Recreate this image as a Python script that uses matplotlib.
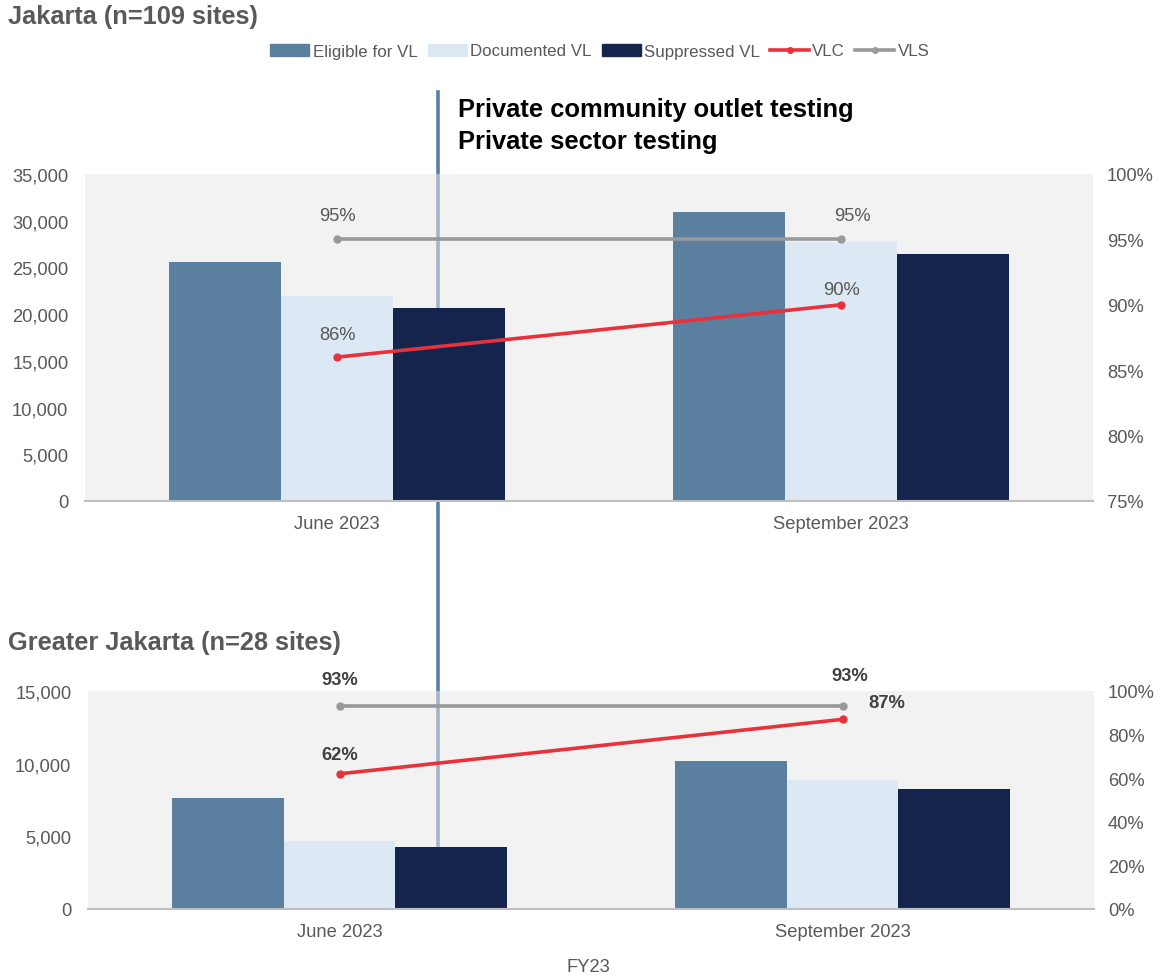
import matplotlib.pyplot as plt
from matplotlib.lines import Line2D
from matplotlib.patches import Patch
from matplotlib.transforms import blended_transform_factory
from matplotlib.ticker import FuncFormatter, PercentFormatter

plt.rcParams['font.family'] = ['Liberation Sans', 'DejaVu Sans']

months = ['June 2023', 'September 2023']

# Jakarta (n=109 sites)
jkt_eligible = [25600, 30900]
jkt_documented = [21900, 27750]
jkt_suppressed = [20700, 26400]
jkt_vlc = [0.86, 0.90]
jkt_vls = [0.95, 0.95]

# Greater Jakarta (n=28 sites)
gj_eligible = [7620, 10160]
gj_documented = [4680, 8880]
gj_suppressed = [4290, 8240]
gj_vlc = [0.62, 0.87]
gj_vls = [0.93, 0.93]

c_elig = '#5a7f9f'
c_doc = '#dce8f4'
c_sup = '#14244d'
c_vlc = '#e8313b'
c_vls = '#999999'
c_bg = '#f2f2f2'
c_txt = '#595959'
fs = 13.2

fig = plt.figure(figsize=(11.6, 9.79), dpi=100)

# vertical marker line (x in figure coords)
line_x = 438 / 1160
fig.add_artist(Line2D([line_x, line_x], [1 - 93 / 979, 0.28], transform=fig.transFigure,
                      color='#5b7fa3', lw=2.6, zorder=-1))


def panel(rect, elig, doc, sup, vlc, vls, ymax, ystep, pmin, pstep, bold, offs):
    ax = fig.add_axes(rect)
    ax.set_facecolor(c_bg)
    x = range(len(months))
    w = 0.222
    ax.bar([i - w for i in x], elig, w, color=c_elig, zorder=2)
    ax.bar(list(x), doc, w, color=c_doc, zorder=2)
    ax.bar([i + w for i in x], sup, w, color=c_sup, zorder=2)
    tr = blended_transform_factory(fig.transFigure, ax.transAxes)
    ax.plot([line_x, line_x], [0, 1], transform=tr, color='#a3b6c9', lw=2.6, zorder=1)
    ax.set_xlim(-0.5, 1.5)
    ax.set_ylim(0, ymax)
    ax.set_yticks(range(0, ymax + 1, ystep))
    ax.yaxis.set_major_formatter(FuncFormatter(lambda v, p: f'{int(v):,}'))
    ax.set_xticks(list(x))
    ax.set_xticklabels(months)
    for s in ['top', 'left', 'right']:
        ax.spines[s].set_visible(False)
    ax.spines['bottom'].set_color('#bfbfbf')
    ax.spines['bottom'].set_linewidth(1.5)
    ax.tick_params(axis='y', length=0, pad=12, labelsize=fs, labelcolor=c_txt)
    ax.tick_params(axis='x', length=0, pad=10, labelsize=fs, labelcolor=c_txt)

    ax2 = ax.twinx()
    ax2.set_ylim(pmin, 1.0)
    ax2.set_yticks([pmin + i * pstep for i in range(int(round((1 - pmin) / pstep)) + 1)])
    ax2.yaxis.set_major_formatter(PercentFormatter(1.0, decimals=0))
    ax2.tick_params(axis='y', length=0, pad=10, labelsize=fs, labelcolor=c_txt)
    for s in ax2.spines.values():
        s.set_visible(False)
    ax2.plot(list(x), vls, color=c_vls, lw=2.6, marker='o', ms=5, zorder=3)
    ax2.plot(list(x), vlc, color=c_vlc, lw=2.6, marker='o', ms=5, zorder=3)
    kw = dict(fontsize=fs, fontweight='bold' if bold else 'normal',
              color='#404040' if bold else c_txt, ha='center', va='center',
              textcoords='offset points')
    for i in x:
        ax2.annotate(f'{vls[i]:.0%}', (i, vls[i]), xytext=offs['vls'][i], **kw)
        ax2.annotate(f'{vlc[i]:.0%}', (i, vlc[i]), xytext=offs['vlc'][i], **kw)
    return ax


top_offs = {'vls': [(0, 17), (8, 17)], 'vlc': [(0, 16), (0, 11)]}
bot_offs = {'vls': [(0, 19), (5, 22)], 'vlc': [(0, 14), (32, 12)]}

panel([85 / 1160, 1 - 502 / 979, 1008 / 1160, 327 / 979],
      jkt_eligible, jkt_documented, jkt_suppressed, jkt_vlc, jkt_vls,
      35000, 5000, 0.75, 0.05, False, top_offs)
panel([88 / 1160, 1 - 910 / 979, 1006 / 1160, 218 / 979],
      gj_eligible, gj_documented, gj_suppressed, gj_vlc, gj_vls,
      15000, 5000, 0.0, 0.2, True, bot_offs)

fig.text(8 / 1160, 1 - 17 / 979, 'Jakarta (n=109 sites)', fontsize=18.3, fontweight='bold',
         color=c_txt, va='center', ha='left')
fig.text(8 / 1160, 1 - 643 / 979, 'Greater Jakarta (n=28 sites)', fontsize=18.3, fontweight='bold',
         color=c_txt, va='center', ha='left')
fig.text(458 / 1160, 1 - 110 / 979, 'Private community outlet testing', fontsize=18.4,
         fontweight='bold', color='black', va='center', ha='left')
fig.text(458 / 1160, 1 - 142 / 979, 'Private sector testing', fontsize=18.4,
         fontweight='bold', color='black', va='center', ha='left')
fig.text(588 / 1160, 1 - 968 / 979, 'FY23', fontsize=fs, color=c_txt, va='center', ha='center')

handles = [Patch(color=c_elig, label='Eligible for VL'),
           Patch(color=c_doc, label='Documented VL'),
           Patch(color=c_sup, label='Suppressed VL'),
           Line2D([], [], color=c_vlc, lw=2.6, marker='o', ms=4, label='VLC'),
           Line2D([], [], color=c_vls, lw=2.6, marker='o', ms=4, label='VLS')]
leg = fig.legend(handles=handles, loc='center', bbox_to_anchor=(600 / 1160, 1 - 52 / 979),
                 ncol=5, frameon=False, fontsize=12.2, handlelength=2.3, handleheight=0.7,
                 handletextpad=0.2, columnspacing=0.6)
for t in leg.get_texts():
    t.set_color(c_txt)

fig.savefig('out.png', dpi=100)
